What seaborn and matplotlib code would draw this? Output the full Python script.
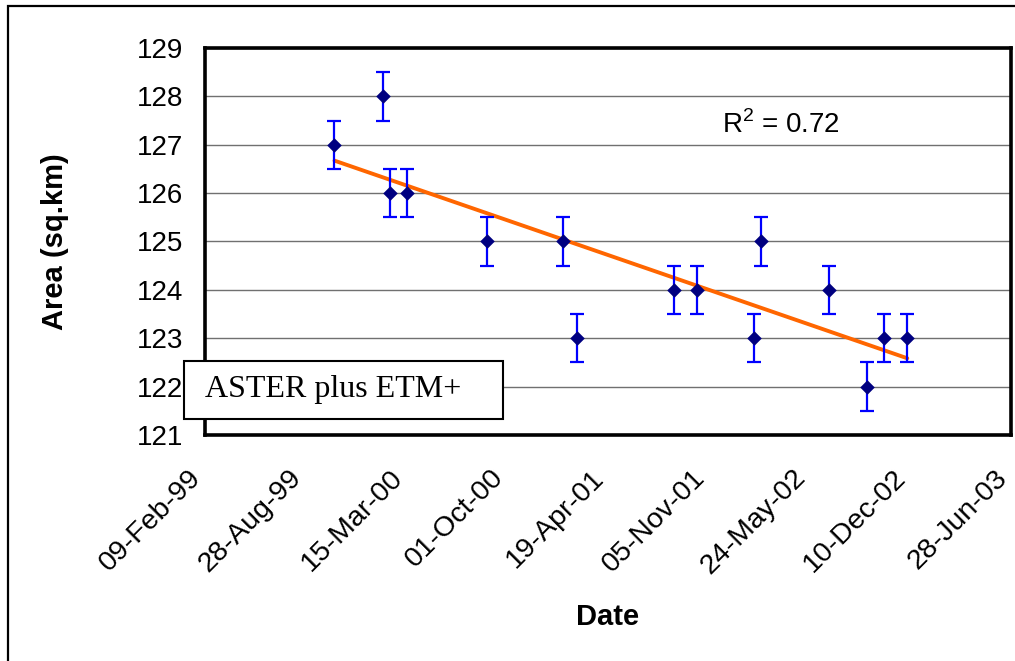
import numpy as np
import pandas as pd
import matplotlib
matplotlib.use("Agg")
import matplotlib.pyplot as plt
import matplotlib.dates as mdates
import matplotlib.transforms as mtransforms
from matplotlib.patches import Rectangle
import seaborn as sns

dates = ["1999-10-24", "2000-01-28", "2000-02-11", "2000-03-15", "2000-08-22",
         "2001-01-20", "2001-02-16", "2001-08-27", "2001-10-12", "2002-02-03",
         "2002-02-17", "2002-07-02", "2002-09-16", "2002-10-18", "2002-12-04"]
area = [127, 128, 126, 126, 125, 125, 123, 124, 124, 123, 125, 124, 122, 123, 123]
err = [0.5] * len(area)

x_start = "1999-02-09"
x_end = "2003-06-28"
y_ticks = list(range(121, 130))
r2_label = r"R$^2$ = 0.72"
box_label = "ASTER plus ETM+"

sns.set_theme(style="white")
plt.rcParams["font.family"] = ["Liberation Sans", "DejaVu Sans"]
plt.rcParams["mathtext.fontset"] = "custom"
plt.rcParams["mathtext.rm"] = "Liberation Sans"
plt.rcParams["text.color"] = "black"
plt.rcParams["axes.labelcolor"] = "black"

df = pd.DataFrame({"date": pd.to_datetime(dates), "area": area, "err": err})
df["x"] = mdates.date2num(df["date"])

fig = plt.figure(figsize=(10.15, 6.61), dpi=100)
ax = fig.add_axes([0.2020, 0.3419, 0.7941, 0.5855])

# linear trend
sns.regplot(data=df, x="x", y="area", ax=ax, ci=None, scatter=False,
            line_kws={"color": "#FF6600", "lw": 2.8, "zorder": 3})

ax.errorbar(df["x"], df["area"], yerr=df["err"], fmt="none", ecolor="#0000FF",
            elinewidth=1.6, capsize=4.8, capthick=1.6, zorder=4)
sns.scatterplot(data=df, x="x", y="area", ax=ax, marker="D", s=55,
                color="#000080", edgecolor="#000080", linewidth=0, zorder=5)

ticks = mdates.date2num(pd.date_range(x_start, x_end, freq="200D"))
ax.set_xlim(ticks[0], ticks[-1])
ax.set_xticks(ticks)
ax.xaxis.set_major_formatter(mdates.DateFormatter("%d-%b-%y"))
ax.set_ylim(121, 129)
ax.set_yticks(y_ticks)

ax.yaxis.grid(True, color="#707070", lw=1.0)
ax.xaxis.grid(False)
for s in ax.spines.values():
    s.set_visible(True)
    s.set_color("black")
    s.set_linewidth(2.6)

ax.tick_params(axis="both", direction="in", length=6, width=2, colors="black",
               labelsize=20)
ax.tick_params(axis="y", pad=16)
ax.tick_params(axis="x", pad=28, labelsize=20.5)
shift = mtransforms.ScaledTranslation(-8 / 100, 0, fig.dpi_scale_trans)
for lab in ax.get_xticklabels():
    lab.set_rotation(45)
    lab.set_ha("right")
    lab.set_va("center")
    lab.set_rotation_mode("anchor")
    lab.set_transform(lab.get_transform() + shift)

ax.set_xlabel("Date", fontsize=21, fontweight="bold", va="top")
ax.set_ylabel("Area (sq.km)", fontsize=21, fontweight="bold")
ax.xaxis.set_label_coords(0.5, -0.434)
ax.yaxis.set_label_coords(-0.169, 0.5)

ax.text(0.641, 0.780, r2_label, transform=ax.transAxes, fontsize=20,
        va="baseline", ha="left")

# label box, partly outside the axes
fig.add_artist(Rectangle((184 / 1015, 1 - 419 / 661), 319 / 1015, 58 / 661,
                         transform=fig.transFigure, facecolor="white",
                         edgecolor="black", lw=1.5, zorder=10))
fig.text(205 / 1015, 1 - 390 / 661, box_label, fontsize=23, va="center",
         ha="left", family=["Liberation Serif", "DejaVu Serif"], zorder=11)

# outer chart frame (cut off at right and bottom)
fig.add_artist(Rectangle((8 / 1015, -0.1), 1.2, 1.1 - 6 / 661,
                         transform=fig.transFigure, facecolor="none",
                         edgecolor="black", lw=1.6))

fig.savefig("out.png", dpi=100)
